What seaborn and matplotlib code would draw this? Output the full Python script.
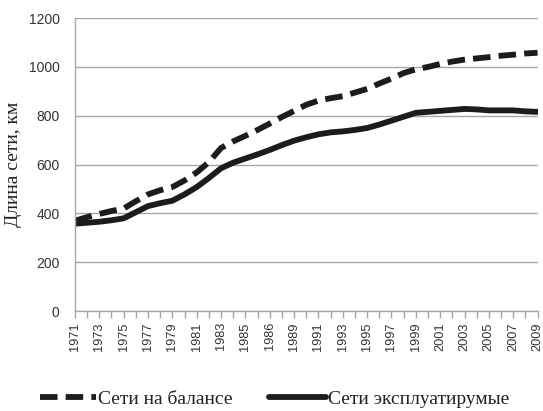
import numpy as np
import pandas as pd
import seaborn as sns
import matplotlib.pyplot as plt
from matplotlib.lines import Line2D

# Data
years = list(range(1971, 2010))
balance = [370, 385, 398, 410, 420, 450, 478, 495, 508, 535,
           568, 610, 668, 695, 718, 742, 768, 795, 820, 845,
           862, 872, 880, 895, 910, 932, 952, 975, 990, 1000,
           1012, 1022, 1030, 1035, 1040, 1046, 1050, 1055, 1058]
exploited = [358, 362, 366, 372, 380, 405, 430, 442, 452, 478,
             508, 545, 585, 608, 625, 642, 660, 680, 698, 712,
             724, 732, 736, 742, 750, 764, 780, 796, 812, 816,
             820, 824, 828, 826, 822, 822, 822, 818, 816]
# tick labels as printed in the source (note 1986 in place of 1987)
tick_labels = ['1971', '1973', '1975', '1977', '1979', '1981', '1983', '1985',
               '1986', '1989', '1991', '1993', '1995', '1997', '1999', '2001',
               '2003', '2005', '2007', '2009']
series_names = ['Сети на балансе', 'Сети эксплуатирумые']

df = pd.DataFrame({
    'year': years * 2,
    'length': balance + exploited,
    'series': [series_names[0]] * len(years) + [series_names[1]] * len(years),
})

sns.set_style('white')
plt.rcParams['font.family'] = ['Liberation Sans', 'DejaVu Sans']
serif = ['Liberation Serif', 'DejaVu Serif']

fig = plt.figure(figsize=(5.43, 4.11), dpi=100)
ax = fig.add_axes([0.138, 0.243, 0.852, 0.713])

line_col = '#1c1c1c'
grid_col = '#a6a6a6'

sns.lineplot(data=df, x='year', y='length', hue='series', style='series',
             palette=[line_col, line_col], dashes=[(3.0, 1.4), ''],
             linewidth=4.2, legend=False, ax=ax)
for ln in ax.lines:
    ln.set_dash_capstyle('butt')
    ln.set_solid_capstyle('round')

ax.set_xlim(1971, 2009)
ax.set_ylim(0, 1200)
ax.set_yticks(range(0, 1201, 200))
ax.yaxis.grid(True, color=grid_col, linewidth=1.0)
ax.set_axisbelow(True)

ax.set_xticks(years, minor=True)
ax.set_xticks(years[::2])
ax.set_xticklabels(tick_labels, rotation=90, fontsize=9.2)
ax.tick_params(axis='x', which='both', direction='out', length=5,
               color=grid_col, width=1.0, bottom=True, pad=3)
ax.tick_params(axis='y', length=0, labelsize=10, pad=11)
for lab in ax.get_yticklabels() + ax.get_xticklabels():
    lab.set_color('#333333')

for side in ['top', 'right']:
    ax.spines[side].set_visible(False)
for side in ['left', 'bottom']:
    ax.spines[side].set_color(grid_col)
    ax.spines[side].set_linewidth(1.0)

ax.set_xlabel('')
ax.set_ylabel('Длина сети, км', family=serif, fontsize=14, color='#222222', labelpad=5)

handles = [
    Line2D([], [], color=line_col, lw=4.2, dashes=(3.0, 1.4), dash_capstyle='butt'),
    Line2D([], [], color=line_col, lw=4.2, solid_capstyle='round'),
]
fig.legend(handles, series_names, loc='lower center', bbox_to_anchor=(0.505, -0.035),
           ncol=2, frameon=False, handlelength=2.9, handletextpad=0.1,
           columnspacing=1.9, prop={'family': serif, 'size': 14},
           labelcolor='#222222')

fig.savefig('out.png', dpi=100)
